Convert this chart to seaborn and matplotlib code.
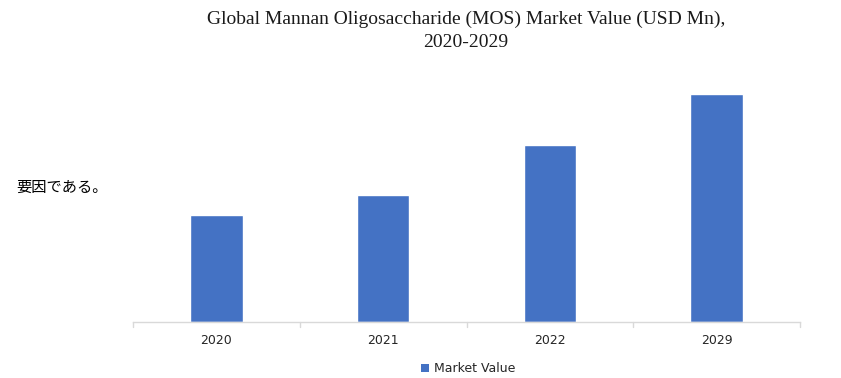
import matplotlib
matplotlib.use("Agg")
import matplotlib.pyplot as plt
import seaborn as sns
import pandas as pd
from matplotlib.patches import Patch

years = ["2020", "2021", "2022", "2029"]
market_value = [107, 127, 177, 228]
title = "Global Mannan Oligosaccharide (MOS) Market Value (USD Mn),\n2020-2029"
side_note = "要因である。"
legend_label = "Market Value"

sns.set_theme(style="white")
plt.rcParams['font.family'] = ['DejaVu Sans']

df = pd.DataFrame({"Year": years, "Value": market_value})

fig = plt.figure(figsize=(8.41, 3.78), dpi=100)
ax = fig.add_axes([133/841, 56/378, (800-133)/841, 252/378])
sns.barplot(data=df, x="Year", y="Value", color="#4472C4", width=0.315,
            saturation=1, ax=ax)
ax.set_xlim(-0.5, 3.5)
ax.set_ylim(0, 252)
ax.set_xlabel("")
ax.set_ylabel("")
ax.set_yticks([])
for s in ["top", "right", "left"]:
    ax.spines[s].set_visible(False)
ax.spines["bottom"].set_color("#d9d9d9")
ax.spines["bottom"].set_linewidth(1)
ax.set_xticks([0, 1, 2, 3])
ax.set_xticklabels(years, fontsize=9, color="#262626")
ax.tick_params(axis="x", length=0, pad=9)
for b in [-0.5, 0.5, 1.5, 2.5, 3.5]:
    ax.plot([b, b], [0, -0.02], transform=ax.get_xaxis_transform(),
            color="#d9d9d9", lw=1, clip_on=False)

fig.text(466/841, 1 - 31/378, title, ha="center", va="center",
         fontsize=14, family=["Liberation Serif", "DejaVu Serif"],
         color="#1a1a1a", linespacing=1.45)
fig.text(16/841, 1 - 187/378, side_note, ha="left", va="center",
         fontsize=11, family=["Noto Sans CJK JP", "DejaVu Sans"], color="black")

handles = [Patch(facecolor="#4472C4", edgecolor="none")]
fig.legend(handles, [legend_label], loc="center", bbox_to_anchor=(468/841, 1 - 369/378),
           frameon=False, fontsize=9, handlelength=0.6, handleheight=0.6,
           handletextpad=0.4)

fig.savefig("out.png", dpi=100)
